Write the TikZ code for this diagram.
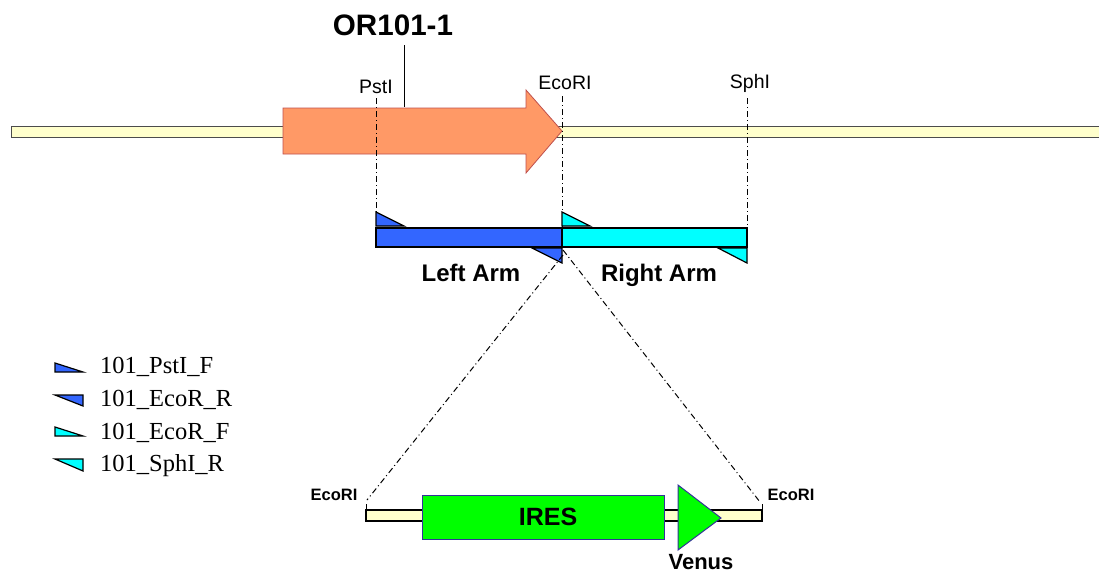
\documentclass[tikz,border=0pt]{standalone}
\usepackage{fontspec}
\setmainfont{Liberation Sans}
\newfontfamily\legendfont{Liberation Serif}
\definecolor{cream}{HTML}{FFFFCC}
\definecolor{genefill}{HTML}{FF9966}
\definecolor{genedraw}{HTML}{C0504D}
\definecolor{armblue}{HTML}{3366FF}
\definecolor{armcyan}{HTML}{00FFFF}
\definecolor{iresgreen}{HTML}{00FF00}
\definecolor{iresdraw}{HTML}{333399}
\begin{document}
\begin{tikzpicture}[x=1pt,y=-1pt,
  backbone/.style={draw=black!70,fill=cream,line width=0.8pt},
  gene/.style={draw=genedraw,fill=genefill,line width=0.8pt},
  armL/.style={draw=black,fill=armblue,line width=1.2pt,line join=miter},
  armR/.style={draw=black,fill=armcyan,line width=1.2pt,line join=miter},
  cutline/.style={line width=1pt,dash pattern=on 6pt off 3pt on 1pt off 3pt},
  site/.style={inner sep=0pt,font=\fontsize{19.5}{20}\selectfont},
  smallsite/.style={inner sep=0pt,font=\fontsize{16.5}{17}\selectfont\bfseries},
  armlabel/.style={inner sep=0pt,anchor=base,font=\fontsize{24}{25}\selectfont\bfseries},
  legtext/.style={inner sep=0pt,anchor=west,font=\legendfont\fontsize{24.5}{25}\selectfont},
  boxlabel/.style={inner sep=0pt,font=\fontsize{25}{26}\selectfont\bfseries}]
\useasboundingbox (0,0) rectangle (1099,573);

% genomic backbone
\draw[backbone] (11,126) rectangle (1104,137);

% OR101-1 gene arrow
\draw[gene] (283,108) -- (526,108) -- (526,90) -- (562,131) -- (526,173)
  -- (526,154) -- (283,154) -- cycle;
\node[inner sep=0pt,font=\fontsize{29.6}{30}\selectfont\bfseries] (gname) at (393,25) {OR101-1};
\coordinate (gtop) at (404,107);
\draw[line width=0.8pt] (404,45) -- (gtop);

% restriction sites on the genomic locus
\node[site] (pst) at (376,87) {PstI};
\node[site] (eco) at (565,83) {EcoRI};
\node[site] (sph) at (750,83) {SphI};
\coordinate (pstT) at (376,98);
\coordinate (pstB) at (376,248);
\coordinate (ecoT) at (562,96);
\coordinate (ecoB) at (562,230);
\coordinate (sphT) at (747,98);
\coordinate (sphB) at (747,247);
\draw[cutline] (pstT) -- (pstB);
\draw[cutline] (ecoT) -- (ecoB);
\draw[cutline] (sphT) -- (sphB);

% homology arms
\draw[armL] (376,228) rectangle (562,247);
\draw[armR] (562,228) rectangle (747,247);

% primers
\draw[armL] (376,212) -- (376,226) -- (404,226) -- cycle;
\draw[armR] (562,212) -- (562,226) -- (590,226) -- cycle;
\draw[armL] (532,248) -- (562,248) -- (562,263) -- cycle;
\draw[armR] (718,248) -- (747,248) -- (747,263) -- cycle;

\node[armlabel] (larm) at (471,281) {Left Arm};
\node[armlabel] (rarm) at (659,281) {Right Arm};

% insertion cassette
\coordinate (insL) at (563,255);
\coordinate (insR) at (563,250);
\coordinate (casL) at (367,500);
\coordinate (casR) at (760,502);
\draw[cutline] (insL) -- (casL);
\draw[cutline] (insR) -- (casR);

\draw[draw=black,fill=cream,line width=1.5pt] (366,510) rectangle (762,521);
\draw[line width=1pt] (366,510) -- (366,504);
\draw[line width=1pt] (762,510) -- (762,504);
\node[smallsite] (ecoL) at (334,495) {EcoRI};
\node[smallsite] (ecoR) at (791,495) {EcoRI};

\draw[draw=iresdraw,fill=iresgreen,line width=1pt] (422,495) rectangle (664,539);
\node[boxlabel] (ires) at (548,517) {IRES};
\draw[draw=iresdraw,fill=iresgreen,line width=1pt] (678,485) -- (721,518) -- (678,550) -- cycle;
\node[inner sep=0pt,font=\fontsize{22}{23}\selectfont\bfseries] (venus) at (701,562) {Venus};

% primer legend
\draw[armL] (55,363) -- (55,372) -- (83,372) -- cycle;
\node[legtext] (l1) at (100,367) {101\_PstI\_F};
\draw[armL] (55,395) -- (83,395) -- (83,406) -- cycle;
\node[legtext] (l2) at (100,400) {101\_EcoR\_R};
\draw[armR] (55,427) -- (55,436) -- (83,436) -- cycle;
\node[legtext] (l3) at (100,433) {101\_EcoR\_F};
\draw[armR] (55,459) -- (83,459) -- (83,471) -- cycle;
\node[legtext] (l4) at (100,466) {101\_SphI\_R};
\end{tikzpicture}
\end{document}
